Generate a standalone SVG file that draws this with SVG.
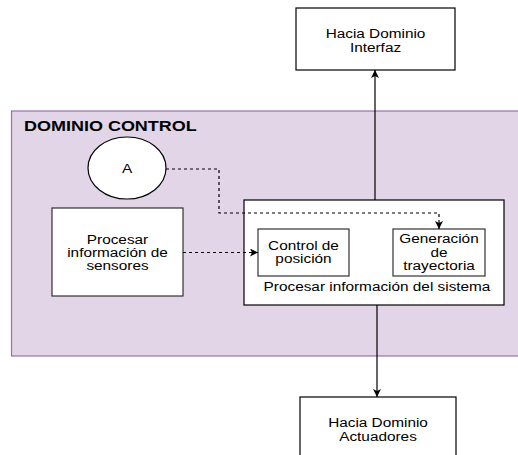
<svg xmlns="http://www.w3.org/2000/svg" width="518" height="455" viewBox="0 0 518 455">
<defs>
<style>
.t{font-family:"Liberation Sans",Arial,sans-serif;font-size:12px;fill:#000;text-anchor:middle}
.b{font-family:"Liberation Sans",Arial,sans-serif;font-size:14px;font-weight:bold;fill:#000}
.box{fill:#fff;stroke:#000;stroke-width:1.2}
.in{fill:#fff;stroke:#333;stroke-width:1.2}
.ln{fill:none;stroke:#000;stroke-width:1.2}
.dl{fill:none;stroke:#000;stroke-width:1.2;stroke-dasharray:3 3}
</style>
<marker id="ah" viewBox="0 0 10 10" refX="10" refY="5" markerWidth="9" markerHeight="8" markerUnits="userSpaceOnUse" orient="auto">
<path d="M0,0 L10,5 L0,10 L2.5,5 Z" fill="#000"/>
</marker>
</defs>
<g id="dominio-control">
<rect x="11.5" y="111" width="510" height="245" fill="#e1d5e7" stroke="#9673a6" stroke-width="1.2"/>
<text class="b" transform="translate(24 131) scale(1.285 1)">DOMINIO CONTROL</text>
</g>
<g id="interfaz">
<rect class="box" x="296" y="8" width="159" height="62"/>
<text class="t" transform="translate(375.5 38) scale(1.28 1)">Hacia Dominio</text>
<text class="t" transform="translate(375.5 52) scale(1.28 1)">Interfaz</text>
</g>
<g id="actuadores">
<rect class="box" x="300" y="397" width="156" height="70"/>
<text class="t" transform="translate(378 427) scale(1.28 1)">Hacia Dominio</text>
<text class="t" transform="translate(378 440.5) scale(1.28 1)">Actuadores</text>
</g>
<g id="nodo-a">
<ellipse class="box" cx="127" cy="168" rx="39" ry="31"/>
<text class="t" transform="translate(127 172.5) scale(1.28 1)">A</text>
</g>
<g id="sensores">
<rect class="in" x="52" y="208" width="131" height="88"/>
<text class="t" transform="translate(117.5 243.5) scale(1.28 1)">Procesar</text>
<text class="t" transform="translate(117.5 257) scale(1.28 1)">información de</text>
<text class="t" transform="translate(117.5 270) scale(1.28 1)">sensores</text>
</g>
<g id="sistema">
<rect class="box" x="244" y="200" width="260" height="105"/>
<text class="t" transform="translate(377 291) scale(1.28 1)">Procesar información del sistema</text>
</g>
<g id="control-posicion">
<rect class="in" x="258" y="229" width="91" height="47"/>
<text class="t" transform="translate(303.5 249.5) scale(1.28 1)">Control de</text>
<text class="t" transform="translate(303.5 263) scale(1.28 1)">posición</text>
</g>
<g id="generacion">
<rect class="in" x="393" y="229" width="92" height="47"/>
<text class="t" transform="translate(439 243) scale(1.28 1)">Generación</text>
<text class="t" transform="translate(439 256.5) scale(1.28 1)">de</text>
<text class="t" transform="translate(439 270) scale(1.28 1)">trayectoria</text>
</g>
<g id="connectors">
<path class="ln" d="M375 200 L375 70" marker-end="url(#ah)"/>
<path class="ln" d="M377 305 L377 397" marker-end="url(#ah)"/>
<path class="dl" d="M166 169 L219 169 L219 213 L439 213 L439 229" marker-end="url(#ah)"/>
<path class="dl" d="M183 252.5 L258 252.5" marker-end="url(#ah)"/>
</g>
</svg>
